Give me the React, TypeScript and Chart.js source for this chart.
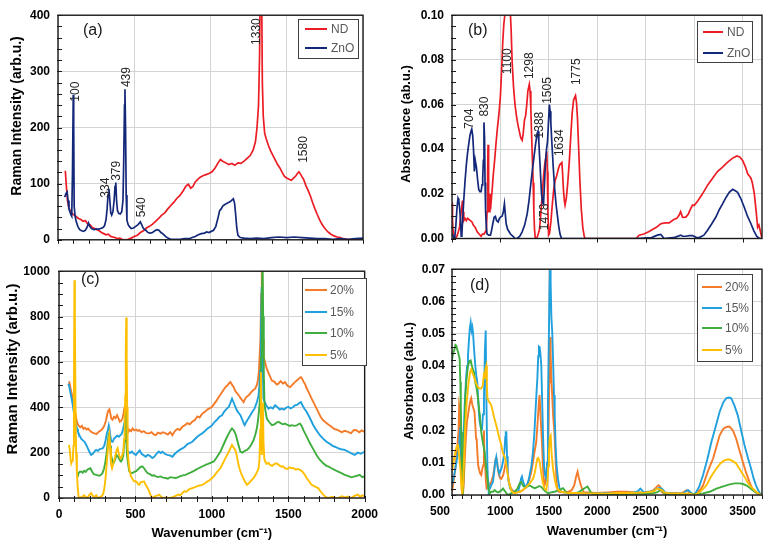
import React, { useEffect, useRef } from 'react';
import { Chart, registerables } from 'chart.js';

Chart.register(...registerables);

type Pt = [number, number];

const FONT = "'Liberation Sans', Arial, sans-serif";
Chart.defaults.font.family = FONT;

// ---------- (a) Raman spectra of ND and ZnO ----------
const ramanND: Pt[] = [
  [48, 123], [55, 95], [62, 70], [70, 58], [80, 52], [90, 48], [100, 45], [110, 44], [120, 41], [135, 38],
  [150, 36], [165, 33], [180, 34], [195, 28], [210, 27], [225, 22], [240, 20], [255, 18], [270, 16], [285, 13],
  [300, 11], [315, 9], [330, 10], [345, 6], [360, 5], [375, 4], [390, 2], [405, 3], [420, 1], [440, 0],
  [460, 1], [480, 3], [500, 6], [520, 8], [540, 13], [560, 16], [580, 21], [600, 24], [620, 28], [640, 33],
  [660, 38], [680, 44], [700, 48], [720, 55], [740, 61], [760, 67], [780, 74], [800, 79], [820, 87], [840, 96],
  [855, 99], [870, 92], [885, 95], [900, 103], [915, 107], [930, 111], [950, 114], [970, 116], [990, 118], [1010, 121],
  [1030, 128], [1050, 137], [1065, 143], [1080, 140], [1100, 137], [1120, 134], [1140, 136], [1160, 133], [1180, 137], [1200, 136],
  [1220, 140], [1240, 145], [1260, 150], [1280, 160], [1295, 175], [1305, 200], [1315, 240], [1322, 330], [1330, 600], [1336, 420],
  [1340, 280], [1346, 220], [1355, 190], [1365, 180], [1380, 168], [1395, 158], [1410, 150], [1425, 142], [1440, 134], [1455, 128],
  [1470, 120], [1485, 113], [1500, 110], [1515, 108], [1530, 106], [1545, 110], [1560, 114], [1570, 118], [1580, 121], [1590, 117],
  [1600, 112], [1610, 108], [1625, 97], [1640, 88], [1655, 78], [1670, 66], [1685, 55], [1700, 45], [1715, 36], [1730, 28],
  [1745, 22], [1760, 17], [1775, 13], [1790, 10], [1810, 7], [1830, 5], [1850, 4], [1870, 2], [1900, 1], [1950, 0], [2000, 0],
];

const ramanZnO: Pt[] = [
  [44, 76], [52, 82], [60, 85], [66, 70], [72, 55], [78, 50], [84, 45], [90, 42], [95, 120], [100, 258],
  [103, 200], [106, 60], [112, 42], [120, 32], [130, 24], [142, 18], [155, 16], [168, 15], [180, 17], [190, 22],
  [200, 30], [208, 24], [220, 20], [235, 18], [250, 19], [265, 19], [280, 20], [295, 22], [305, 25], [315, 36],
  [322, 55], [328, 80], [334, 91], [340, 70], [346, 48], [352, 44], [360, 50], [368, 70], [374, 95], [379, 102],
  [384, 70], [390, 52], [398, 47], [408, 46], [418, 50], [426, 70], [431, 140], [436, 240], [439, 268], [443, 200],
  [447, 80], [452, 35], [460, 27], [470, 23], [480, 20], [495, 21], [510, 24], [525, 27], [540, 32], [550, 26],
  [560, 20], [575, 17], [590, 13], [605, 12], [620, 13], [635, 16], [650, 18], [662, 17], [675, 13], [690, 10],
  [705, 6], [720, 3], [740, 1], [770, 1], [800, 1], [830, 2], [860, 2], [880, 4], [900, 6], [920, 9],
  [940, 11], [960, 12], [975, 14], [990, 13], [1005, 15], [1020, 17], [1035, 24], [1050, 40], [1060, 52], [1070, 55],
  [1080, 60], [1090, 62], [1100, 64], [1115, 66], [1130, 68], [1142, 71], [1150, 73], [1158, 65], [1165, 45], [1172, 22],
  [1180, 8], [1195, 4], [1220, 3], [1260, 2], [1300, 3], [1350, 2], [1400, 4], [1450, 5], [1500, 4], [1550, 5],
  [1600, 4], [1650, 3], [1700, 2], [1750, 2], [1800, 1], [1850, 2], [1900, 1], [1950, 2], [2000, 3],
];

const ramanPeaksZnO = [100, 334, 379, 439, 540];
const ramanPeaksND = [1330, 1580];

// ---------- (b) FTIR spectra of ND and ZnO ----------
const ftirND: Pt[] = [
  [500, 0.016], [505, 0.008], [512, 0.003], [522, 0], [534, 0], [550, 0.001], [565, 0.003], [578, 0.005], [590, 0.01], [600, 0.014],
  [608, 0.017], [615, 0.012], [622, 0.008], [635, 0.009], [648, 0.008], [660, 0.009], [675, 0.0085], [690, 0.008], [705, 0.0075], [720, 0.006],
  [740, 0.005], [760, 0.003], [780, 0.002], [800, 0.001], [815, 0.002], [830, 0.002], [845, 0.003], [855, 0.004], [862, 0.012], [868, 0.03],
  [872, 0.042], [876, 0.025], [880, 0.014], [886, 0.012], [892, 0.02], [898, 0.013], [905, 0.017], [915, 0.022], [925, 0.028], [940, 0.035],
  [955, 0.043], [970, 0.05], [985, 0.056], [1000, 0.064], [1012, 0.075], [1024, 0.088], [1035, 0.096], [1045, 0.1], [1060, 0.101], [1080, 0.102],
  [1100, 0.103], [1110, 0.094], [1121, 0.079], [1135, 0.068], [1150, 0.06], [1165, 0.055], [1180, 0.051], [1195, 0.048], [1210, 0.045], [1224, 0.044],
  [1235, 0.047], [1248, 0.053], [1260, 0.055], [1272, 0.06], [1283, 0.066], [1298, 0.069], [1306, 0.066], [1314, 0.058], [1322, 0.046], [1330, 0.035],
  [1338, 0.025], [1345, 0.012], [1352, 0.004], [1360, 0], [1375, 0], [1390, 0.002], [1403, 0.004], [1415, 0.01], [1425, 0.016], [1435, 0.022],
  [1445, 0.028], [1457, 0.033], [1468, 0.036], [1478, 0.039], [1484, 0.03], [1490, 0.012], [1497, 0.0015], [1505, 0.002], [1512, 0.004], [1522, 0.008],
  [1535, 0.015], [1550, 0.022], [1565, 0.026], [1580, 0.028], [1597, 0.031], [1612, 0.033], [1634, 0.034], [1642, 0.029], [1650, 0.022], [1660, 0.017],
  [1667, 0.015], [1680, 0.018], [1695, 0.025], [1710, 0.034], [1725, 0.045], [1740, 0.056], [1755, 0.062], [1775, 0.064], [1785, 0.061], [1795, 0.054],
  [1808, 0.04], [1820, 0.026], [1835, 0.013], [1850, 0.005], [1865, 0.001], [1875, 0], [2000, 0], [2200, 0], [2400, 0], [2431, 0.0015],
  [2480, 0.002], [2530, 0.003], [2569, 0.004], [2610, 0.005], [2655, 0.0066], [2700, 0.007], [2741, 0.007], [2790, 0.0085], [2820, 0.009], [2845, 0.0105],
  [2860, 0.012], [2880, 0.0095], [2914, 0.0096], [2940, 0.011], [2960, 0.013], [2983, 0.015], [3000, 0.0148], [3040, 0.017], [3086, 0.02], [3140, 0.024],
  [3190, 0.027], [3240, 0.03], [3293, 0.032], [3340, 0.034], [3397, 0.036], [3440, 0.037], [3470, 0.0365], [3500, 0.035], [3530, 0.032], [3552, 0.029],
  [3570, 0.028], [3586, 0.027], [3600, 0.025], [3621, 0.02], [3640, 0.012], [3655, 0.005], [3668, 0.006], [3679, 0.004], [3700, 0],
];

const ftirZnO: Pt[] = [
  [500, 0.002], [515, 0.001], [528, 0], [540, 0.006], [552, 0.014], [562, 0.018], [570, 0.017], [580, 0.013], [588, 0.008], [595, 0.001],
  [602, 0.002], [612, 0.01], [621, 0.017], [635, 0.026], [648, 0.033], [660, 0.038], [672, 0.042], [685, 0.046], [696, 0.048], [704, 0.049],
  [714, 0.046], [722, 0.04], [731, 0.03], [740, 0.035], [752, 0.032], [765, 0.026], [776, 0.022], [788, 0.021], [800, 0.021], [810, 0.024],
  [817, 0.027], [824, 0.035], [830, 0.052], [836, 0.045], [841, 0.025], [847, 0.012], [855, 0.005], [862, 0.002], [880, 0.0015], [897, 0.0015],
  [910, 0.004], [921, 0.0066], [935, 0.0095], [948, 0.0099], [960, 0.008], [976, 0.0074], [990, 0.009], [1000, 0.0096], [1017, 0.01], [1030, 0.012],
  [1041, 0.0155], [1050, 0.011], [1059, 0.0066], [1075, 0.004], [1090, 0.003], [1103, 0.002], [1130, 0.001], [1150, 0], [1172, 0], [1200, 0.001],
  [1224, 0.003], [1250, 0.006], [1276, 0.011], [1295, 0.017], [1310, 0.023], [1328, 0.03], [1345, 0.036], [1362, 0.042], [1379, 0.047], [1388, 0.048],
  [1396, 0.0435], [1410, 0.032], [1424, 0.02], [1435, 0.016], [1445, 0.0155], [1455, 0.025], [1466, 0.035], [1476, 0.04], [1486, 0.0435], [1496, 0.052],
  [1505, 0.06], [1513, 0.057], [1520, 0.052], [1532, 0.042], [1545, 0.032], [1560, 0.022], [1575, 0.015], [1586, 0.011], [1600, 0.006], [1615, 0.002],
  [1631, 0], [2000, 0], [2400, 0], [2560, 0.0004], [2620, 0.0015], [2655, 0.0018], [2690, 0], [2800, 0.0005], [2862, 0.0015], [2880, 0.001],
  [2914, 0.001], [2950, 0.0013], [2983, 0.0013], [3020, 0.0005], [3052, 0.0004], [3100, 0.0015], [3138, 0.0037], [3180, 0.0065], [3224, 0.0096], [3260, 0.013],
  [3293, 0.0155], [3330, 0.0185], [3362, 0.0207], [3397, 0.022], [3420, 0.0215], [3448, 0.0207], [3480, 0.018], [3517, 0.014], [3550, 0.01], [3586, 0.0066],
  [3615, 0.0035], [3645, 0.001], [3672, 0], [3700, 0],
];

const ftirPeaksND = [1100, 1298, 1478, 1634, 1775];
const ftirPeaksZnO = [704, 830, 1388, 1505];

// ---------- (c) Raman spectra of the composites ----------
const raman20: Pt[] = [
  [65, 514], [70, 505], [74, 489], [80, 470], [88, 445], [95, 423], [102, 400], [108, 372], [113, 350], [120, 330],
  [130, 318], [140, 312], [150, 318], [160, 305], [170, 310], [180, 302], [190, 306], [200, 298], [210, 292], [220, 288],
  [232, 285], [245, 282], [260, 292], [275, 299], [290, 310], [300, 325], [308, 343], [316, 370], [322, 385], [330, 391],
  [336, 372], [342, 350], [350, 345], [360, 358], [370, 352], [380, 365], [390, 350], [398, 336], [406, 340], [415, 350],
  [422, 372], [428, 398], [434, 408], [440, 380], [446, 320], [452, 290], [462, 300], [472, 295], [481, 307], [492, 298],
  [505, 302], [515, 296], [525, 299], [540, 290], [555, 295], [570, 286], [590, 285], [605, 290], [620, 280], [633, 277],
  [648, 288], [665, 284], [680, 290], [698, 285], [712, 280], [728, 290], [742, 277], [758, 295], [775, 305], [790, 300],
  [807, 314], [822, 320], [840, 330], [855, 325], [872, 336], [890, 345], [905, 360], [920, 355], [937, 372], [955, 380],
  [970, 390], [985, 395], [1002, 402], [1015, 415], [1030, 428], [1045, 445], [1060, 460], [1075, 475], [1089, 489], [1100, 495],
  [1112, 505], [1121, 511], [1132, 500], [1143, 489], [1155, 470], [1165, 462], [1176, 453], [1188, 440], [1198, 432], [1208, 423],
  [1220, 440], [1230, 448], [1241, 453], [1255, 465], [1270, 475], [1284, 482], [1295, 500], [1302, 520], [1308, 560], [1313, 630],
  [1318, 700], [1323, 900], [1327, 1080], [1331, 950], [1335, 700], [1340, 620], [1348, 600], [1360, 569], [1375, 545], [1393, 518],
  [1410, 512], [1425, 500], [1436, 504], [1450, 515], [1465, 505], [1479, 511], [1495, 495], [1512, 489], [1528, 500], [1544, 511],
  [1560, 520], [1575, 530], [1583, 533], [1592, 525], [1600, 512], [1609, 504], [1620, 485], [1635, 465], [1653, 438], [1670, 415],
  [1685, 395], [1696, 380], [1710, 360], [1725, 345], [1740, 336], [1760, 325], [1783, 314], [1800, 305], [1826, 299], [1850, 290],
  [1870, 296], [1891, 292], [1910, 285], [1930, 300], [1946, 299], [1965, 290], [1980, 298], [2000, 292],
];

const raman15: Pt[] = [
  [60, 504], [66, 495], [74, 467], [82, 440], [90, 410], [95, 387], [102, 360], [110, 330], [118, 305], [124, 292],
  [135, 275], [145, 262], [155, 255], [167, 248], [178, 235], [188, 220], [198, 205], [210, 190], [222, 195], [232, 205],
  [243, 212], [255, 208], [265, 215], [276, 218], [286, 219], [296, 230], [305, 255], [313, 285], [320, 300], [326, 320],
  [330, 307], [336, 275], [342, 250], [351, 248], [360, 262], [370, 268], [380, 275], [392, 270], [402, 277], [410, 282],
  [418, 300], [426, 325], [432, 345], [438, 328], [443, 250], [448, 205], [453, 204], [465, 198], [478, 205], [490, 195],
  [503, 190], [515, 200], [528, 210], [540, 195], [555, 188], [568, 182], [580, 190], [595, 186], [610, 176], [623, 182],
  [638, 195], [652, 205], [665, 198], [677, 204], [692, 195], [708, 190], [725, 188], [742, 182], [758, 195], [775, 205],
  [790, 212], [807, 219], [822, 225], [840, 238], [855, 242], [872, 248], [890, 260], [905, 270], [920, 278], [937, 285],
  [955, 295], [970, 305], [985, 312], [1002, 321], [1018, 335], [1033, 345], [1050, 358], [1067, 365], [1080, 380], [1095, 392],
  [1111, 402], [1122, 420], [1132, 438], [1143, 420], [1154, 402], [1165, 385], [1176, 375], [1187, 365], [1200, 345], [1208, 330],
  [1215, 321], [1225, 335], [1238, 350], [1252, 365], [1265, 380], [1280, 395], [1295, 423], [1305, 450], [1310, 482], [1316, 560],
  [1321, 720], [1326, 930], [1330, 800], [1334, 560], [1338, 438], [1345, 425], [1355, 410], [1371, 394], [1385, 400], [1400, 395],
  [1414, 409], [1430, 400], [1445, 390], [1458, 394], [1472, 390], [1486, 398], [1501, 402], [1515, 395], [1530, 400], [1544, 409],
  [1560, 412], [1575, 420], [1583, 423], [1592, 410], [1605, 395], [1620, 380], [1640, 355], [1664, 321], [1685, 298], [1707, 277],
  [1728, 262], [1750, 248], [1770, 240], [1790, 230], [1805, 226], [1825, 220], [1845, 215], [1870, 212], [1890, 205], [1910, 198],
  [1935, 190], [1955, 200], [1975, 195], [2000, 204],
];

const raman10: Pt[] = [
  [122, 93], [128, 110], [135, 115], [145, 117], [155, 112], [165, 120], [175, 115], [185, 125], [195, 128], [206, 131],
  [215, 118], [228, 105], [243, 102], [255, 100], [265, 98], [275, 102], [285, 110], [295, 130], [304, 161], [312, 200],
  [318, 240], [325, 277], [330, 270], [335, 230], [340, 190], [348, 168], [355, 153], [362, 160], [370, 175], [376, 190],
  [384, 185], [392, 175], [400, 165], [406, 161], [414, 170], [421, 190], [427, 250], [431, 330], [434, 380], [438, 320],
  [442, 230], [445, 190], [452, 150], [460, 117], [470, 112], [481, 110], [492, 115], [505, 118], [515, 125], [525, 131],
  [535, 138], [547, 139], [560, 128], [570, 118], [579, 110], [595, 105], [610, 98], [622, 100], [633, 95], [648, 92],
  [665, 95], [680, 90], [698, 88], [712, 85], [728, 92], [746, 90], [764, 88], [780, 92], [795, 96], [810, 100],
  [829, 102], [845, 108], [860, 112], [880, 118], [894, 124], [910, 130], [925, 135], [940, 140], [959, 146], [975, 150],
  [992, 155], [1013, 161], [1028, 175], [1042, 190], [1056, 204], [1070, 225], [1085, 248], [1100, 270], [1112, 285], [1122, 298],
  [1132, 307], [1142, 300], [1150, 290], [1158, 277], [1168, 250], [1178, 225], [1187, 204], [1200, 200], [1215, 208], [1230, 212],
  [1245, 222], [1260, 238], [1273, 255], [1285, 280], [1294, 305], [1301, 336], [1308, 380], [1313, 420], [1317, 453], [1322, 620],
  [1327, 850], [1332, 1050], [1336, 800], [1340, 550], [1345, 409], [1352, 380], [1360, 350], [1375, 335], [1393, 321], [1410, 325],
  [1422, 332], [1436, 336], [1450, 330], [1465, 325], [1479, 328], [1495, 322], [1510, 318], [1523, 321], [1540, 318], [1555, 320],
  [1568, 326], [1577, 328], [1588, 318], [1599, 299], [1610, 285], [1625, 265], [1642, 241], [1660, 220], [1685, 190], [1705, 170],
  [1729, 153], [1750, 142], [1765, 138], [1783, 131], [1800, 125], [1820, 118], [1848, 110], [1870, 102], [1890, 98], [1913, 91],
  [1935, 95], [1950, 98], [1967, 102], [1985, 92], [2000, 95],
];

const raman5: Pt[] = [
  [65, 234], [70, 215], [76, 170], [80, 153], [86, 165], [91, 190], [95, 230], [98, 500], [101, 960], [104, 800],
  [108, 400], [112, 200], [117, 117], [122, 50], [128, 7], [135, 0], [150, 5], [165, 12], [178, 0], [190, 5],
  [200, 15], [210, 22], [220, 10], [232, 5], [244, 12], [254, 0], [265, 3], [280, 8], [290, 20], [297, 44],
  [305, 90], [312, 150], [318, 200], [324, 250], [330, 277], [335, 220], [340, 150], [347, 131], [355, 150], [362, 168],
  [370, 190], [377, 210], [384, 219], [390, 200], [396, 185], [402, 175], [410, 180], [416, 195], [421, 204], [426, 260],
  [430, 360], [434, 453], [437, 650], [440, 796], [443, 620], [446, 400], [449, 219], [455, 160], [462, 120], [471, 95],
  [480, 85], [492, 73], [500, 75], [510, 70], [518, 60], [525, 58], [532, 68], [540, 70], [548, 72], [557, 73],
  [565, 60], [575, 50], [583, 40], [590, 29], [598, 15], [605, 5], [612, 0], [625, 6], [640, 10], [655, 15],
  [668, 5], [680, 0], [700, 2], [720, 0], [740, 3], [760, 8], [780, 15], [795, 12], [807, 22], [820, 30],
  [835, 28], [850, 38], [872, 44], [890, 48], [905, 52], [920, 55], [937, 58], [955, 65], [970, 72], [985, 78],
  [1002, 88], [1018, 100], [1035, 115], [1056, 131], [1070, 150], [1085, 170], [1100, 190], [1112, 205], [1122, 220], [1132, 234],
  [1140, 225], [1150, 215], [1158, 204], [1168, 170], [1177, 140], [1187, 117], [1200, 95], [1215, 75], [1230, 58], [1242, 65],
  [1255, 75], [1265, 82], [1273, 88], [1285, 100], [1296, 115], [1306, 131], [1312, 170], [1317, 300], [1321, 555], [1324, 400],
  [1327, 190], [1331, 260], [1334, 420], [1338, 250], [1343, 175], [1349, 161], [1360, 150], [1370, 155], [1382, 146], [1395, 142],
  [1410, 150], [1425, 153], [1440, 145], [1455, 138], [1467, 140], [1479, 131], [1495, 128], [1510, 135], [1522, 132], [1534, 131],
  [1550, 125], [1563, 128], [1577, 124], [1590, 118], [1600, 110], [1609, 102], [1620, 88], [1635, 75], [1653, 58], [1670, 52],
  [1682, 48], [1696, 44], [1710, 30], [1720, 22], [1729, 15], [1740, 8], [1752, 3], [1761, 0], [1790, 5], [1810, 0],
  [1826, 0], [1850, 8], [1870, 3], [1891, 7], [1910, 0], [1935, 10], [1957, 15], [1970, 5], [1985, 12], [2000, 7],
];

// ---------- (d) FTIR spectra of the composites ----------
const ftir20: Pt[] = [
  [500, 0.001], [515, 0.004], [534, 0.008], [550, 0.013], [560, 0.017], [568, 0.02], [574, 0.028], [580, 0.027], [588, 0.018], [596, 0.008],
  [605, 0.001], [613, 0], [622, 0.004], [630, 0.01], [640, 0.016], [654, 0.0227], [665, 0.0247], [676, 0.027], [688, 0.029], [698, 0.03],
  [710, 0.028], [720, 0.027], [732, 0.0258], [740, 0.022], [748, 0.0176], [755, 0.017], [762, 0.013], [770, 0.0093], [779, 0.008], [790, 0.0067],
  [802, 0.0062], [812, 0.008], [824, 0.0093], [830, 0.02], [835, 0.012], [841, 0.0103], [850, 0.004], [858, 0.002], [875, 0.0025], [892, 0.003],
  [910, 0.0045], [926, 0.0062], [940, 0.009], [950, 0.0112], [960, 0.0113], [970, 0.009], [982, 0.0065], [995, 0.0052], [1010, 0.005], [1029, 0.0062],
  [1045, 0.0085], [1055, 0.0103], [1063, 0.0103], [1075, 0.007], [1087, 0.004], [1097, 0.003], [1120, 0.0015], [1145, 0.001], [1165, 0.0008], [1200, 0.001],
  [1230, 0.0015], [1250, 0.002], [1275, 0.003], [1300, 0.005], [1319, 0.0072], [1335, 0.01], [1350, 0.013], [1370, 0.0165], [1385, 0.023], [1397, 0.029],
  [1404, 0.031], [1412, 0.026], [1420, 0.021], [1428, 0.0165], [1437, 0.01], [1446, 0.005], [1455, 0.003], [1465, 0.004], [1475, 0.007], [1489, 0.0103],
  [1497, 0.02], [1504, 0.035], [1510, 0.046], [1513, 0.049], [1518, 0.044], [1526, 0.036], [1534, 0.031], [1545, 0.024], [1557, 0.0196], [1568, 0.012],
  [1578, 0.005], [1585, 0.002], [1600, 0.001], [1630, 0.0008], [1660, 0.0008], [1700, 0.001], [1735, 0.0015], [1762, 0.003], [1780, 0.0055], [1796, 0.0072],
  [1812, 0.005], [1830, 0.003], [1848, 0.0015], [1864, 0.0008], [1900, 0.0008], [2000, 0.0006], [2100, 0.0008], [2205, 0.001], [2300, 0.001], [2400, 0.0008],
  [2478, 0.0008], [2540, 0.001], [2580, 0.0015], [2615, 0.0026], [2632, 0.003], [2649, 0.0026], [2665, 0.001], [2683, 0.0005], [2750, 0.0006], [2800, 0.0006],
  [2850, 0.0005], [2888, 0.0008], [2920, 0.0015], [2950, 0.0008], [2980, 0.0003], [3007, 0], [3040, 0.001], [3070, 0.002], [3092, 0.003], [3120, 0.0055],
  [3150, 0.008], [3195, 0.0113], [3230, 0.015], [3263, 0.0185], [3300, 0.0205], [3331, 0.0211], [3365, 0.0212], [3400, 0.02], [3433, 0.0175], [3465, 0.014],
  [3502, 0.0103], [3535, 0.007], [3570, 0.0041], [3600, 0.002], [3638, 0.0008], [3670, 0.0003], [3700, 0],
];

const ftir15: Pt[] = [
  [500, 0.003], [515, 0.005], [534, 0.008], [550, 0.011], [568, 0.0144], [579, 0.0175], [585, 0.021], [592, 0.013], [600, 0.009], [610, 0.012],
  [620, 0.018], [631, 0.0278], [645, 0.036], [656, 0.04], [665, 0.0432], [675, 0.048], [685, 0.052], [693, 0.0535], [703, 0.051], [710, 0.052],
  [717, 0.0504], [728, 0.045], [741, 0.04], [751, 0.037], [761, 0.035], [770, 0.03], [779, 0.025], [786, 0.0226], [798, 0.021], [810, 0.0206],
  [820, 0.025], [830, 0.03], [840, 0.045], [848, 0.051], [855, 0.03], [865, 0.0093], [872, 0.004], [879, 0.001], [890, 0.002], [905, 0.003],
  [923, 0.0041], [935, 0.007], [945, 0.01], [957, 0.0118], [965, 0.01], [975, 0.008], [982, 0.0072], [995, 0.007], [1008, 0.008], [1019, 0.0093],
  [1030, 0.011], [1042, 0.014], [1050, 0.018], [1055, 0.0195], [1061, 0.0195], [1068, 0.012], [1075, 0.007], [1085, 0.0041], [1100, 0.002], [1115, 0.0015],
  [1130, 0.001], [1160, 0.001], [1181, 0.001], [1200, 0.003], [1212, 0.005], [1222, 0.0057], [1235, 0.004], [1250, 0.003], [1267, 0.0025], [1285, 0.004],
  [1300, 0.006], [1320, 0.009], [1336, 0.0134], [1350, 0.019], [1362, 0.026], [1373, 0.032], [1381, 0.036], [1390, 0.043], [1397, 0.046], [1405, 0.0458],
  [1412, 0.044], [1422, 0.04], [1430, 0.03], [1440, 0.018], [1450, 0.0093], [1462, 0.006], [1474, 0.005], [1482, 0.01], [1490, 0.028], [1498, 0.0453],
  [1506, 0.062], [1512, 0.07], [1518, 0.066], [1526, 0.055], [1535, 0.0504], [1545, 0.04], [1553, 0.031], [1560, 0.0247], [1570, 0.015], [1580, 0.009],
  [1594, 0.005], [1610, 0.002], [1628, 0.001], [1700, 0.0005], [1800, 0.0005], [1900, 0.0005], [2000, 0.0005], [2100, 0.0006], [2200, 0.0006], [2300, 0.0006],
  [2380, 0.0008], [2420, 0.0012], [2444, 0.002], [2460, 0.0015], [2478, 0.0008], [2520, 0.001], [2560, 0.001], [2590, 0.0015], [2615, 0.002], [2640, 0.0022],
  [2666, 0.002], [2700, 0.0008], [2760, 0.0005], [2820, 0.0005], [2888, 0.0005], [2915, 0.0012], [2939, 0.0015], [2970, 0.0006], [3007, 0.0002], [3050, 0.0025],
  [3092, 0.0062], [3135, 0.011], [3178, 0.0165], [3220, 0.021], [3263, 0.0258], [3300, 0.0287], [3331, 0.03], [3360, 0.0302], [3382, 0.03], [3415, 0.0278],
  [3450, 0.0247], [3485, 0.02], [3519, 0.0155], [3555, 0.0115], [3587, 0.0082], [3615, 0.005], [3638, 0.003], [3660, 0.0015], [3680, 0.0005], [3700, 0],
];

const ftir10: Pt[] = [
  [500, 0.042], [512, 0.044], [525, 0.045], [535, 0.0465], [544, 0.0463], [555, 0.045], [565, 0.044], [579, 0.0422], [586, 0.035], [591, 0.027],
  [596, 0.0195], [603, 0.008], [608, 0.002], [613, 0], [620, 0.008], [628, 0.018], [637, 0.03], [650, 0.036], [665, 0.04], [680, 0.0415],
  [693, 0.0417], [705, 0.04], [716, 0.039], [727, 0.038], [740, 0.035], [755, 0.033], [768, 0.03], [785, 0.025], [802, 0.0195], [820, 0.016],
  [837, 0.0134], [850, 0.009], [865, 0.0051], [877, 0.002], [889, 0.0005], [905, 0.001], [923, 0.001], [940, 0.0015], [958, 0.001], [975, 0.0008],
  [1000, 0.0012], [1027, 0.002], [1050, 0.001], [1078, 0], [1110, 0.0005], [1147, 0.001], [1175, 0.002], [1199, 0.0036], [1215, 0.004], [1230, 0.003],
  [1250, 0.0024], [1275, 0.0026], [1302, 0.003], [1325, 0.0025], [1353, 0.0021], [1380, 0.0024], [1400, 0.0028], [1422, 0.0025], [1450, 0.0015], [1470, 0.001],
  [1491, 0.0005], [1520, 0.0008], [1560, 0.001], [1600, 0.0015], [1625, 0.0018], [1646, 0.0021], [1670, 0.0012], [1697, 0.0005], [1740, 0.0005], [1780, 0.0006],
  [1813, 0.001], [1840, 0.0015], [1864, 0.002], [1885, 0.0024], [1898, 0.0026], [1915, 0.0018], [1933, 0.0008], [1960, 0.0003], [2000, 0.0002], [2100, 0.0002],
  [2205, 0.0002], [2300, 0.0003], [2400, 0.0004], [2500, 0.0004], [2570, 0.0005], [2615, 0.0008], [2645, 0.0014], [2666, 0.0015], [2690, 0.0005], [2717, 0],
  [2800, 0.0002], [2900, 0.0003], [3000, 0.0003], [3092, 0.0005], [3160, 0.001], [3229, 0.002], [3300, 0.0027], [3365, 0.0033], [3420, 0.0036], [3468, 0.0036],
  [3505, 0.0034], [3536, 0.003], [3570, 0.0023], [3604, 0.0015], [3640, 0.0008], [3670, 0.0003], [3700, 0],
];

const ftir5: Pt[] = [
  [500, 0.0072], [515, 0.01], [534, 0.0134], [548, 0.015], [562, 0.0154], [575, 0.012], [589, 0.0072], [598, 0.002], [606, 0], [615, 0.004],
  [625, 0.012], [637, 0.0216], [650, 0.028], [662, 0.032], [672, 0.035], [686, 0.038], [699, 0.039], [710, 0.038], [722, 0.037], [734, 0.036],
  [750, 0.0345], [768, 0.0334], [785, 0.033], [802, 0.033], [818, 0.034], [830, 0.038], [837, 0.036], [845, 0.039], [854, 0.04], [860, 0.034],
  [865, 0.03], [880, 0.029], [893, 0.0285], [906, 0.0278], [920, 0.026], [935, 0.024], [957, 0.0216], [970, 0.02], [985, 0.018], [1000, 0.0165],
  [1009, 0.0154], [1025, 0.013], [1040, 0.012], [1050, 0.0113], [1062, 0.009], [1075, 0.0065], [1085, 0.0045], [1095, 0.003], [1110, 0.0015], [1130, 0.0008],
  [1147, 0.0005], [1170, 0.0008], [1199, 0.001], [1230, 0.0015], [1267, 0.0025], [1300, 0.0035], [1336, 0.005], [1355, 0.007], [1370, 0.0095], [1381, 0.0113],
  [1390, 0.0115], [1405, 0.0103], [1420, 0.007], [1439, 0.0036], [1455, 0.002], [1474, 0.0015], [1485, 0.004], [1494, 0.009], [1501, 0.0134], [1510, 0.018],
  [1519, 0.0185], [1528, 0.013], [1543, 0.0082], [1560, 0.005], [1577, 0.0025], [1600, 0.0015], [1628, 0.001], [1700, 0.0006], [1800, 0.0006], [1900, 0.0005],
  [2000, 0.0005], [2100, 0.0005], [2200, 0.0006], [2300, 0.0006], [2400, 0.0007], [2500, 0.0008], [2560, 0.001], [2590, 0.0013], [2615, 0.002], [2640, 0.0018],
  [2666, 0.0015], [2690, 0.0008], [2750, 0.0005], [2850, 0.0005], [2950, 0.0004], [3007, 0], [3060, 0.001], [3095, 0.002], [3126, 0.003], [3170, 0.0055],
  [3229, 0.0082], [3270, 0.0098], [3314, 0.0108], [3345, 0.011], [3365, 0.011], [3400, 0.0105], [3433, 0.0098], [3470, 0.008], [3519, 0.0057], [3560, 0.0035],
  [3604, 0.002], [3640, 0.001], [3670, 0.0003], [3700, 0],
];

// Axis ranges and tick values
const ramanXRange = [0, 2000];
const ftirXRange = [500, 3700];
const ramanXTicks = [0, 500, 1000, 1500, 2000];
const ftirXTicks = [500, 1000, 1500, 2000, 2500, 3000, 3500];
const ramanYMaxTop = 400;
const ftirYMaxTop = 0.1;
const ramanYMaxBottom = 1000;
const ftirYMaxBottom = 0.07;

// ---------- drawing helpers ----------
const COLORS = {
  nd: '#ec1c24',
  zno: '#14287a',
  c20: '#f47b2a',
  c15: '#21a0de',
  c10: '#3fae3f',
  c5: '#ffbf00',
};
const GRID = '#d4d4d4';

interface SeriesDef { name: string; data: Pt[]; color: string; order: number; width: number; }
interface PeakLabel { value: number; yBase: number; dx: number; }
interface LegendLayout { x: number; y: number; w: number; h: number; rows: number[]; lx0: number; lx1: number; tx: number; }

interface PanelSpec {
  left: number; top: number; w: number; h: number;
  yAxisW: number; xAxisH: number; padTop: number; padRight: number;
  xMin: number; xMax: number; xTicks: number[]; xLabels: boolean;
  yMax: number; yStep: number; yDecimals: number;
  yTitle: string; yTitleX: number; yTitleY: number; yTitleSize: number;
  xTitlePad: number; tickPadY: number;
  yMinor: number; xMinor: number; xMinorIn: number;
  series: SeriesDef[];
  peaks: PeakLabel[];
  letter: string; letterX: number; letterY: number;
  legend: LegendLayout;
  firstXLabelLeft?: boolean;
}

function decor(spec: PanelSpec) {
  return {
    id: 'decor',
    afterDraw(chart: any) {
      const { ctx, chartArea: a, scales } = chart;
      const xs = scales.x;
      const ys = scales.y;
      ctx.save();

      // minor tick marks
      ctx.strokeStyle = '#1a1a1a';
      ctx.lineWidth = 1;
      ctx.beginPath();
      const ny = Math.round(spec.yMax / spec.yMinor);
      for (let i = 0; i <= ny; i++) {
        const py = Math.round(ys.getPixelForValue(i * spec.yMinor)) + 0.5;
        ctx.moveTo(a.left - 1, py);
        ctx.lineTo(a.left + 4, py);
      }
      const nx = Math.round((spec.xMax - spec.xMin) / spec.xMinor);
      for (let i = 0; i <= nx; i++) {
        const px = Math.round(xs.getPixelForValue(spec.xMin + i * spec.xMinor)) + 0.5;
        ctx.moveTo(px, a.bottom - spec.xMinorIn);
        ctx.lineTo(px, a.bottom + 4);
      }
      ctx.stroke();

      // plot frame
      ctx.strokeStyle = '#1a1a1a';
      ctx.lineWidth = 1.4;
      ctx.strokeRect(a.left, a.top, a.right - a.left, a.bottom - a.top);

      // y-axis title
      ctx.save();
      ctx.font = `bold ${spec.yTitleSize}px ${FONT}`;
      ctx.fillStyle = '#000';
      ctx.textAlign = 'center';
      ctx.textBaseline = 'middle';
      ctx.translate(spec.yTitleX, spec.yTitleY);
      ctx.rotate(-Math.PI / 2);
      ctx.fillText(spec.yTitle, 0, 0);
      ctx.restore();

      // first x label set flush against the axis
      if (spec.firstXLabelLeft) {
        ctx.font = `bold 12px ${FONT}`;
        ctx.fillStyle = '#000';
        ctx.textAlign = 'right';
        ctx.textBaseline = 'middle';
        ctx.fillText(String(spec.xMin), a.left - 2, a.bottom + 16.2);
      }

      // peak position labels
      ctx.font = `12px ${FONT}`;
      ctx.fillStyle = '#262626';
      ctx.textAlign = 'left';
      ctx.textBaseline = 'middle';
      for (const p of spec.peaks) {
        const px = xs.getPixelForValue(p.value) + p.dx;
        const py = ys.getPixelForValue(p.yBase);
        ctx.save();
        ctx.translate(px, py);
        ctx.rotate(-Math.PI / 2);
        ctx.fillText(String(p.value), 0, 0);
        ctx.restore();
      }

      // panel letter
      ctx.font = `16px ${FONT}`;
      ctx.fillStyle = '#1a1a1a';
      ctx.textAlign = 'left';
      ctx.textBaseline = 'middle';
      ctx.fillText(spec.letter, spec.letterX, spec.letterY);

      // legend box
      const L = spec.legend;
      ctx.fillStyle = '#fff';
      ctx.fillRect(L.x, L.y, L.w, L.h);
      ctx.strokeStyle = '#404040';
      ctx.lineWidth = 1;
      ctx.strokeRect(L.x + 0.5, L.y + 0.5, L.w, L.h);
      ctx.font = `12px ${FONT}`;
      ctx.textBaseline = 'middle';
      spec.series.forEach((s, i) => {
        const y = L.rows[i];
        ctx.strokeStyle = s.color;
        ctx.lineWidth = 2;
        ctx.beginPath();
        ctx.moveTo(L.lx0, y);
        ctx.lineTo(L.lx1, y);
        ctx.stroke();
        ctx.fillStyle = '#595959';
        ctx.fillText(s.name, L.tx, y + 0.5);
      });

      ctx.restore();
    },
  };
}

function buildConfig(spec: PanelSpec): any {
  const tickFont = { family: FONT, size: 12, weight: 'bold' as const };
  return {
    type: 'line',
    data: {
      datasets: spec.series.map((s) => ({
        label: s.name,
        data: s.data,
        borderColor: s.color,
        borderWidth: s.width,
        pointRadius: 0,
        tension: 0,
        fill: false,
        order: s.order,
      })),
    },
    options: {
      responsive: false,
      animation: false,
      devicePixelRatio: 1,
      events: [],
      layout: { padding: { left: 0, top: spec.padTop, right: spec.padRight, bottom: 0 } },
      plugins: { legend: { display: false }, tooltip: { enabled: false } },
      scales: {
        x: {
          type: 'linear',
          min: spec.xMin,
          max: spec.xMax,
          afterBuildTicks: (s: any) => { s.ticks = spec.xTicks.map((v) => ({ value: v })); },
          afterFit: (s: any) => { s.height = spec.xAxisH; },
          grid: { display: true, color: GRID, lineWidth: 1, drawTicks: false, drawOnChartArea: true },
          border: { display: false },
          ticks: {
            display: spec.xLabels,
            autoSkip: false,
            maxRotation: 0,
            padding: 9,
            color: '#000',
            font: tickFont,
            callback: (v: number) => (spec.firstXLabelLeft && v === spec.xMin ? '' : String(v)),
          },
          title: {
            display: spec.xLabels,
            text: 'Wavenumber (cm⁻¹)',
            color: '#000',
            font: { family: FONT, size: 13, weight: 'bold' },
            padding: { top: 0, bottom: spec.xTitlePad },
          },
        },
        y: {
          type: 'linear',
          min: 0,
          max: spec.yMax,
          afterFit: (s: any) => { s.width = spec.yAxisW; },
          grid: { color: GRID, lineWidth: 1, drawTicks: false },
          border: { display: false },
          ticks: {
            stepSize: spec.yStep,
            autoSkip: false,
            padding: spec.tickPadY,
            color: '#000',
            font: tickFont,
            callback: (v: number) => v.toFixed(spec.yDecimals),
          },
          title: { display: false },
        },
      },
    },
    plugins: [decor(spec)],
  };
}

const panelA: PanelSpec = {
  left: 0, top: 0, w: 387, h: 255,
  yAxisW: 58, xAxisH: 15, padTop: 12, padRight: 24,
  xMin: ramanXRange[0], xMax: ramanXRange[1], xTicks: ramanXTicks, xLabels: false,
  yMax: ramanYMaxTop, yStep: 100, yDecimals: 0,
  yTitle: 'Raman Intensity (arb.u.)', yTitleX: 17, yTitleY: 116, yTitleSize: 14,
  xTitlePad: 0, tickPadY: 8,
  yMinor: 20, xMinor: 100, xMinorIn: 0,
  series: [
    { name: 'ND', data: ramanND, color: COLORS.nd, order: 2, width: 1.7 },
    { name: 'ZnO', data: ramanZnO, color: COLORS.zno, order: 1, width: 1.7 },
  ],
  peaks: [
    ...ramanPeaksZnO.map((v, i) => ({ value: v, yBase: [246, 75, 105, 272, 40][i], dx: [2.5, -3, 1, 2, 1.5][i] })),
    ...ramanPeaksND.map((v, i) => ({ value: v, yBase: [347, 137][i], dx: [-4.5, 5][i] })),
  ],
  letter: '(a)', letterX: 83, letterY: 31,
  legend: { x: 298, y: 19, w: 60, h: 39, rows: [29, 48], lx0: 305, lx1: 327, tx: 331 },
};

const panelB: PanelSpec = {
  left: 387, top: 0, w: 387, h: 255,
  yAxisW: 65, xAxisH: 16.5, padTop: 12, padRight: 12,
  xMin: ftirXRange[0], xMax: ftirXRange[1], xTicks: ftirXTicks, xLabels: false,
  yMax: ftirYMaxTop, yStep: 0.02, yDecimals: 2,
  yTitle: 'Absorbance (ab.u.)', yTitleX: 19.5, yTitleY: 124, yTitleSize: 13,
  xTitlePad: 0, tickPadY: 8,
  yMinor: 0.005, xMinor: 500, xMinorIn: 0,
  series: [
    { name: 'ND', data: ftirND, color: COLORS.nd, order: 2, width: 1.7 },
    { name: 'ZnO', data: ftirZnO, color: COLORS.zno, order: 1, width: 1.7 },
  ],
  peaks: [
    ...ftirPeaksZnO.map((v, i) => ({ value: v, yBase: [0.0492, 0.0546, 0.0448, 0.0603][i], dx: [-2.5, 1, 2, -1.5][i] })),
    ...ftirPeaksND.map((v, i) => ({ value: v, yBase: [0.0736, 0.0714, 0.0037, 0.0369, 0.0687][i], dx: [-2, 0, -2.5, -2, 1.5][i] })),
  ],
  letter: '(b)', letterX: 81, letterY: 31,
  legend: { x: 310, y: 21, w: 55, h: 41, rows: [32, 53], lx0: 316, lx1: 336, tx: 340 },
};

const panelC: PanelSpec = {
  left: 0, top: 255, w: 387, h: 293,
  yAxisW: 59, xAxisH: 50, padTop: 15, padRight: 20.5,
  xMin: ramanXRange[0], xMax: ramanXRange[1], xTicks: ramanXTicks, xLabels: true,
  yMax: ramanYMaxBottom, yStep: 200, yDecimals: 0,
  yTitle: 'Raman Intensity (arb.u.)', yTitleX: 13, yTitleY: 114, yTitleSize: 15,
  xTitlePad: 7.2, tickPadY: 9,
  yMinor: 50, xMinor: 100, xMinorIn: 2,
  series: [
    { name: '20%', data: raman20, color: COLORS.c20, order: 4, width: 1.9 },
    { name: '15%', data: raman15, color: COLORS.c15, order: 3, width: 1.9 },
    { name: '10%', data: raman10, color: COLORS.c10, order: 2, width: 1.9 },
    { name: '5%', data: raman5, color: COLORS.c5, order: 1, width: 1.9 },
  ],
  peaks: [],
  letter: '(c)', letterX: 81, letterY: 25,
  legend: { x: 302, y: 23, w: 64, h: 87, rows: [35, 57, 78, 100], lx0: 305, lx1: 327, tx: 330 },
};

const panelD: PanelSpec = {
  left: 387, top: 255, w: 387, h: 293,
  yAxisW: 65, xAxisH: 53, padTop: 13, padRight: 12,
  xMin: ftirXRange[0], xMax: ftirXRange[1], xTicks: ftirXTicks, xLabels: true,
  yMax: ftirYMaxBottom, yStep: 0.01, yDecimals: 2,
  yTitle: 'Absorbance (ab.u.)', yTitleX: 22, yTitleY: 126, yTitleSize: 13,
  xTitlePad: 8.5, tickPadY: 7,
  yMinor: 0.002, xMinor: 100, xMinorIn: 0,
  series: [
    { name: '20%', data: ftir20, color: COLORS.c20, order: 4, width: 1.9 },
    { name: '15%', data: ftir15, color: COLORS.c15, order: 3, width: 1.9 },
    { name: '10%', data: ftir10, color: COLORS.c10, order: 2, width: 1.9 },
    { name: '5%', data: ftir5, color: COLORS.c5, order: 1, width: 1.9 },
  ],
  peaks: [],
  letter: '(d)', letterX: 83, letterY: 30.5,
  legend: { x: 310, y: 19, w: 55, h: 87, rows: [32, 53, 73, 95], lx0: 315, lx1: 335, tx: 338 },
  firstXLabelLeft: true,
};

function ChartPanel({ spec }: { spec: PanelSpec }) {
  const ref = useRef<HTMLCanvasElement>(null);
  useEffect(() => {
    if (!ref.current) return;
    const chart = new Chart(ref.current, buildConfig(spec));
    return () => chart.destroy();
  }, [spec]);
  return (
    <canvas
      ref={ref}
      width={spec.w}
      height={spec.h}
      style={{ position: 'absolute', left: spec.left, top: spec.top, width: spec.w, height: spec.h }}
    />
  );
}

export default function App() {
  return (
    <div style={{ position: 'absolute', left: 0, top: 0, width: 774, height: 548, background: '#fff', overflow: 'hidden' }}>
      <ChartPanel spec={panelA} />
      <ChartPanel spec={panelB} />
      <ChartPanel spec={panelC} />
      <ChartPanel spec={panelD} />
    </div>
  );
}
